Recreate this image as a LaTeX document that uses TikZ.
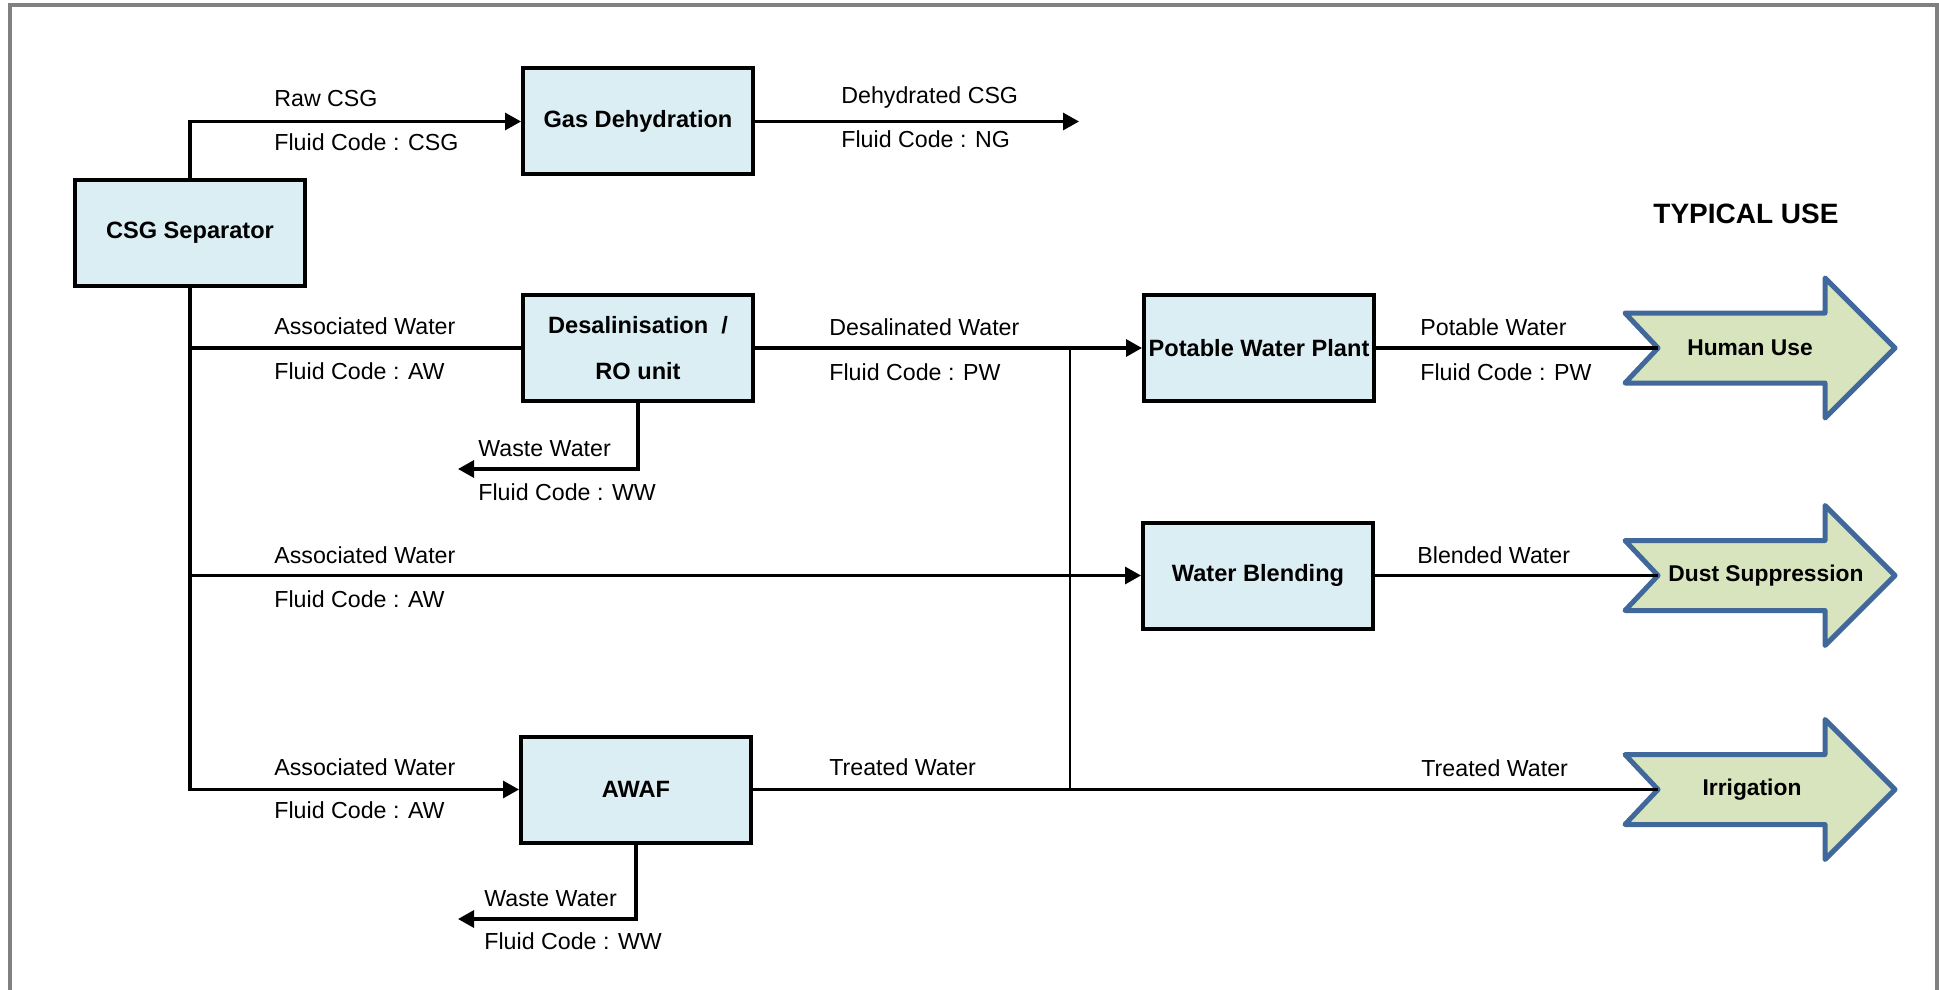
\documentclass[tikz,border=0pt]{standalone}
\usepackage{fontspec}
\setmainfont{Liberation Sans}
\usetikzlibrary{arrows.meta}

\definecolor{unitfill}{HTML}{DBEEF4}
\definecolor{usefill}{HTML}{D7E4BD}
\definecolor{useline}{HTML}{41689A}
\definecolor{framegray}{HTML}{808080}

\tikzset{
	unit/.style={draw, line width=2pt, fill=unitfill, minimum width=115pt, minimum height=53pt,
		inner sep=0pt, align=center, font=\bfseries\fontsize{11.8}{23}\selectfont},
	flow/.style={line width=1.6pt},
	feed/.style={-{Triangle[length=8pt,width=8.5pt]}},
	lbl/.style={anchor=base west, inner sep=0pt, font=\fontsize{11.6}{14}\selectfont},
	usearrow/.style={draw=useline, fill=usefill, line width=2.5pt, line join=round},
	usetext/.style={font=\bfseries\fontsize{11.4}{14}\selectfont}
}

\begin{document}
\begin{tikzpicture}[x=0.5pt, y=-0.5pt]
			\useasboundingbox (0,0) rectangle (1939,990);
			\clip (0,0) rectangle (1939,990);
			\draw[framegray, line width=2pt] (10,1000) -- (10,5) -- (1937,5) -- (1937,1000);
			
			% process units
			\node[unit] (csgsep) at (190,233) {CSG Separator};
			\node[unit] (gasdeh) at (638,121.5) {Gas Dehydration};
			\node[unit] (desal) at (638,348) {Desalinisation\ \ /\\RO unit};
			\node[unit] (potable) at (1259,348) {Potable Water Plant};
			\node[unit] (blend) at (1258,575.5) {Water Blending};
			\node[unit] (awaf) at (636,789.5) {AWAF};
			
			\node[font=\bfseries\fontsize{14}{16}\selectfont, anchor=base] (typical) at (1746,223) {TYPICAL USE};
			
			% typical uses
			\foreach \nm/\xx/\yy/\txt in {human/1750/348/Human Use, dust/1766/575.5/Dust Suppression, irrig/1752/789.5/Irrigation}{
				\draw[usearrow] (1625,\yy-35) -- (1825,\yy-35) -- (1825,\yy-70) -- (1895,\yy)
					-- (1825,\yy+70) -- (1825,\yy+35) -- (1625,\yy+35) -- (1658,\yy) -- cycle;
				\coordinate (\nm-in) at (1658,\yy);
				\node[usetext] (\nm) at (\xx,\yy) {\txt};
			}
			
			\coordinate (dehydout) at (1079,121.5);
			\coordinate (desalww) at (458,469);
			\coordinate (awafww) at (458,919);
			\coordinate (riser-top) at (1070,348);
			\coordinate (riser-bottom) at (1070,789.5);
			
			\draw[flow,feed] (csgsep.north) |- (gasdeh.west);
			\draw[flow,feed] (gasdeh.east) -- (dehydout);
			\draw[flow] (csgsep.south) |- (desal.west);
			\draw[flow,feed] (csgsep.south) |- (blend.west);
			\draw[flow,feed] (csgsep.south) |- (awaf.west);
			\draw[flow,feed] (desal.east) -- (potable.west);
			\draw[flow,feed] (desal.south) |- (desalww);
			\draw[flow,feed] (awaf.south) |- (awafww);
			\draw[flow] (potable.east) -- (human-in);
			\draw[flow] (blend.east) -- (dust-in);
			\draw[flow] (awaf.east) -- (irrig-in);
			\draw[line width=1.2pt] (riser-top) -- (riser-bottom);
			
			% stream labels
			\node[lbl] (rawcsg) at (274,107) {Raw CSG};
			\node[lbl] (rawcode) at (274,150) {Fluid Code : CSG};
			\node[lbl] (dehydcsg) at (841,104) {Dehydrated CSG};
			\node[lbl] (dehydcode) at (841,148) {Fluid Code : NG};
			\node[lbl] (assoc1) at (274,334) {Associated Water};
			\node[lbl] (assoc1code) at (274,379) {Fluid Code : AW};
			\node[lbl] (desalwater) at (829,335) {Desalinated Water};
			\node[lbl] (desalcode) at (829,380) {Fluid Code : PW};
			\node[lbl] (potwater) at (1420,335) {Potable Water};
			\node[lbl] (potcode) at (1420,380) {Fluid Code : PW};
			\node[lbl] (ww1) at (478,456) {Waste Water};
			\node[lbl] (ww1code) at (478,500) {Fluid Code : WW};
			\node[lbl] (assoc2) at (274,563) {Associated Water};
			\node[lbl] (assoc2code) at (274,607) {Fluid Code : AW};
			\node[lbl] (blended) at (1417,563) {Blended Water};
			\node[lbl] (assoc3) at (274,775) {Associated Water};
			\node[lbl] (assoc3code) at (274,818) {Fluid Code : AW};
			\node[lbl] (treated1) at (829,775) {Treated Water};
			\node[lbl] (treated2) at (1421,776) {Treated Water};
			\node[lbl] (ww2) at (484,906) {Waste Water};
			\node[lbl] (ww2code) at (484,949) {Fluid Code : WW};
\end{tikzpicture}
\end{document}
